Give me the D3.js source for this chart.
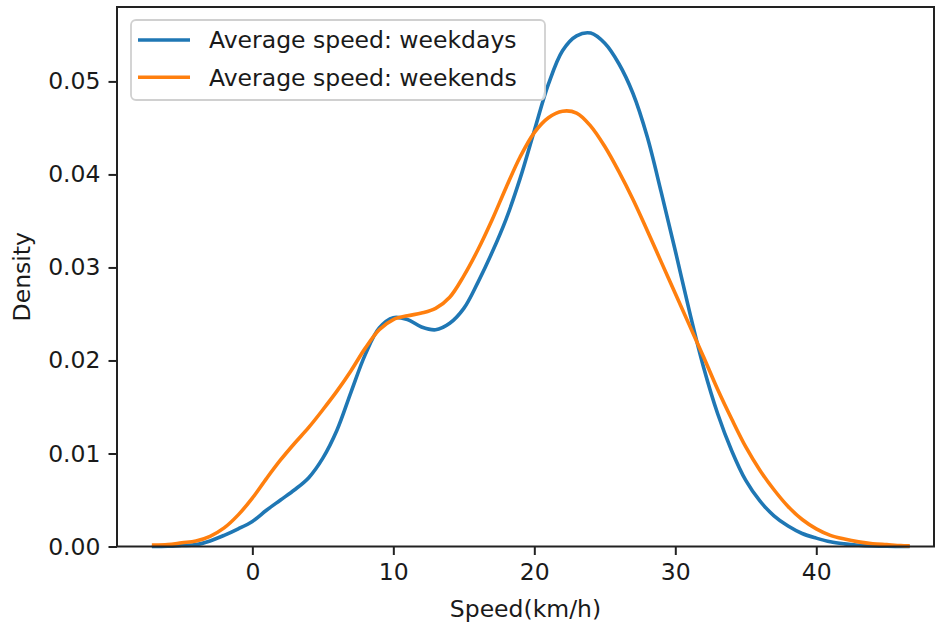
<!DOCTYPE html>
<html>
<head>
<meta charset="utf-8">
<script src="https://cdn.jsdelivr.net/npm/d3@7"></script>
<style>
  body { margin: 0; background: #fff; }
  text { font-family: "DejaVu Sans", sans-serif; fill: #1a1a1a; }
</style>
</head>
<body>
<svg id="chart"></svg>
<script>
let w = 937;
let h = 627;

// speed grid (km/h) and density
let speeds = [-7, -6, -5, -4, -3, -2, -1, 0, 1, 2, 3, 4, 5, 6, 7, 8, 9, 10, 11, 12, 13, 14, 15, 16, 17, 18, 19,
  20, 21, 22, 23, 24, 25, 26, 27, 28, 29, 30, 31, 32, 33, 34, 35, 36, 37, 38, 39, 40, 41, 42, 43, 44, 45, 46, 46.5];

let weekdays = [0.0000, 0.00002, 0.0001, 0.0002, 0.0006, 0.0012, 0.0019, 0.0027, 0.0039, 0.0050, 0.0061, 0.0074,
  0.0095, 0.0125, 0.0166, 0.0206, 0.0235, 0.0246, 0.0244, 0.0236, 0.0233, 0.0240, 0.0256, 0.0284, 0.0316, 0.0352,
  0.0396, 0.0447, 0.0497, 0.0533, 0.0549, 0.0552, 0.0541, 0.0519, 0.0487, 0.0441, 0.0381, 0.0318, 0.0253, 0.0193,
  0.0143, 0.0103, 0.0071, 0.0049, 0.0033, 0.0022, 0.0014, 0.0009, 0.0005, 0.00028, 0.00014, 0.00006, 0.00002,
  0.00001, 0.0];

let weekends = [0.00015, 0.0002, 0.0004, 0.0006, 0.0011, 0.0020, 0.0034, 0.0052, 0.0073, 0.0093, 0.0111, 0.0128,
  0.0147, 0.0167, 0.0189, 0.0213, 0.0233, 0.0244, 0.0248, 0.0251, 0.0256, 0.0268, 0.0291, 0.0319, 0.0351, 0.0386,
  0.0419, 0.0445, 0.0461, 0.0468, 0.0466, 0.0452, 0.0430, 0.0403, 0.0373, 0.0340, 0.0306, 0.0272, 0.0238, 0.0204,
  0.0169, 0.0137, 0.0107, 0.0082, 0.0061, 0.0043, 0.0029, 0.0019, 0.0012, 0.0008, 0.0005, 0.0003, 0.0002,
  0.0001, 0.00007];

let seriesNames = ["Average speed: weekdays", "Average speed: weekends"];
let seriesColors = ["#1f77b4", "#ff7f0e"];
let xTicks = [0, 10, 20, 30, 40];
let yTicks = [0, 0.01, 0.02, 0.03, 0.04, 0.05];

let plotLeft = 117, plotRight = 934, plotTop = 7, plotBottom = 546.5;

let chart = d3.select("#chart")
  .attr("width", w)
  .attr("height", h);

let xScale = d3.scaleLinear()
  .domain([-9.6, 48.35])
  .range([plotLeft, plotRight]);

let yScale = d3.scaleLinear()
  .domain([0, 0.058])
  .range([plotBottom, plotTop]);

let line = d3.line()
  .x(d => xScale(d[0]))
  .y(d => yScale(d[1]))
  .curve(d3.curveCatmullRom.alpha(0.5));

let series = [weekdays, weekends].map(vals => speeds.map((s, i) => [s, vals[i]]));

chart.append("g")
  .selectAll("path")
  .data(series)
  .join("path")
  .attr("fill", "none")
  .attr("stroke", (d, i) => seriesColors[i])
  .attr("stroke-width", 3.6)
  .attr("stroke-linecap", "square")
  .attr("d", line);

// axes
let xAxis = d3.axisBottom(xScale)
  .tickValues(xTicks)
  .tickSize(8.5)
  .tickPadding(8)
  .tickFormat(d3.format("d"));

let yAxis = d3.axisLeft(yScale)
  .tickValues(yTicks)
  .tickSize(8.5)
  .tickPadding(8)
  .tickFormat(d3.format(".2f"));

let styleAxis = g => {
  g.select(".domain").remove();
  g.selectAll(".tick line").attr("stroke", "#222").attr("stroke-width", 2);
  g.selectAll(".tick text").attr("font-size", 23.5).attr("fill", "#1a1a1a")
    .attr("font-family", "DejaVu Sans, sans-serif");
};

chart.append("g")
  .attr("transform", `translate(0, ${plotBottom})`)
  .call(xAxis)
  .call(styleAxis);

chart.append("g")
  .attr("transform", `translate(${plotLeft}, 0)`)
  .call(yAxis)
  .call(styleAxis);

// frame
chart.append("rect")
  .attr("x", plotLeft)
  .attr("y", plotTop)
  .attr("width", plotRight - plotLeft)
  .attr("height", plotBottom - plotTop)
  .attr("fill", "none")
  .attr("stroke", "#222")
  .attr("stroke-width", 2);

chart.append("text")
  .attr("x", (plotLeft + plotRight) / 2)
  .attr("y", 617)
  .attr("text-anchor", "middle")
  .attr("font-size", 23.5)
  .text("Speed(km/h)");

chart.append("text")
  .attr("transform", `translate(22, ${(plotTop + plotBottom) / 2}) rotate(-90)`)
  .attr("dy", "0.35em")
  .attr("text-anchor", "middle")
  .attr("font-size", 23.5)
  .text("Density");

// legend
let legend = chart.append("g");

legend.append("rect")
  .attr("x", 131)
  .attr("y", 20)
  .attr("width", 414)
  .attr("height", 80)
  .attr("rx", 5)
  .attr("fill", "#fff")
  .attr("fill-opacity", 0.8)
  .attr("stroke", "#d0d0d0")
  .attr("stroke-width", 1.8);

let items = legend.selectAll("g.item")
  .data(seriesNames)
  .join("g")
  .attr("class", "item")
  .attr("transform", (d, i) => `translate(0, ${40 + i * 37.3})`);

items.append("line")
  .attr("x1", 138)
  .attr("x2", 190)
  .attr("stroke", (d, i) => seriesColors[i])
  .attr("stroke-width", 3.6);

items.append("text")
  .attr("x", 209)
  .attr("dy", "0.35em")
  .attr("font-size", 23.5)
  .text(d => d);
</script>
</body>
</html>
